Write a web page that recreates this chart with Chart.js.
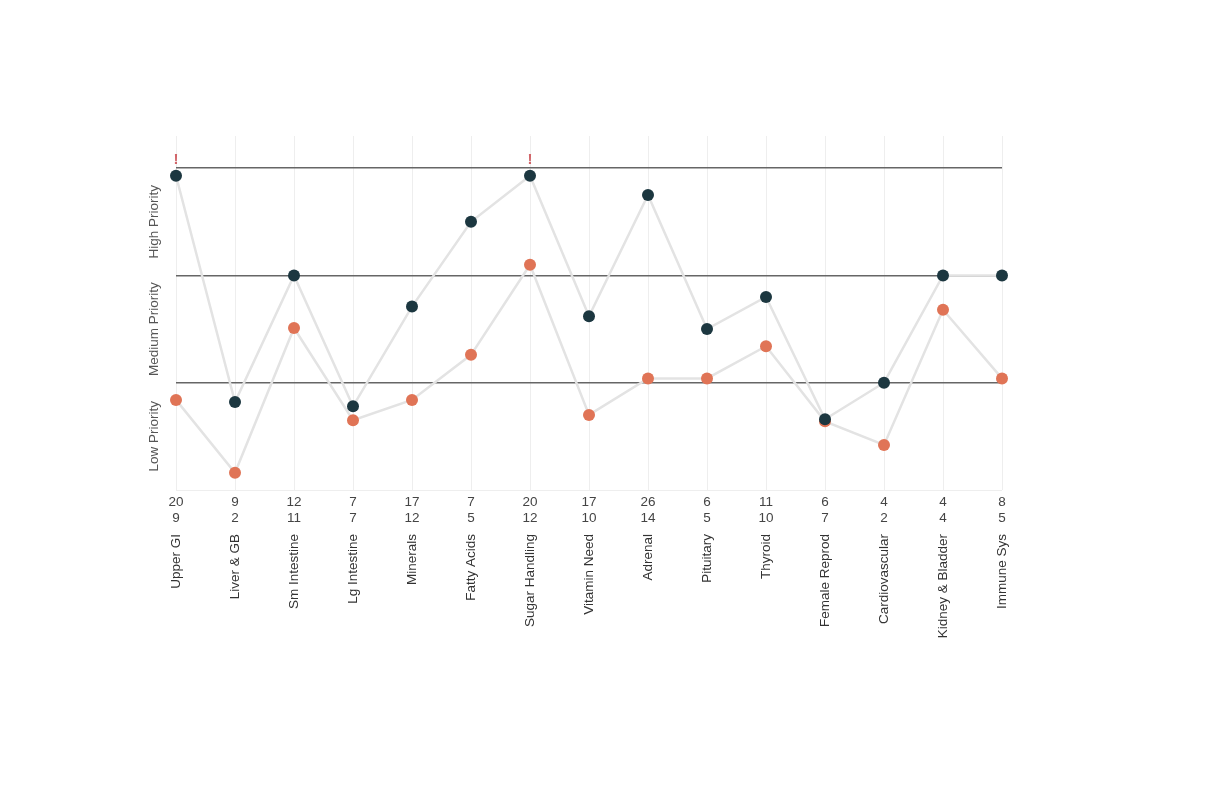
<!DOCTYPE html>
<html>
<head>
<meta charset="utf-8">
<script src="https://cdn.jsdelivr.net/npm/chart.js@4.4.1/dist/chart.umd.min.js"></script>
<style>
  html, body { margin: 0; padding: 0; background: #fff; }
  canvas { display: block; }
</style>
</head>
<body>
<canvas id="c" width="1218" height="790"></canvas>
<script>
const categories = ["Upper GI", "Liver & GB", "Sm Intestine", "Lg Intestine", "Minerals", "Fatty Acids", "Sugar Handling", "Vitamin Need", "Adrenal", "Pituitary", "Thyroid", "Female Reprod", "Cardiovascular", "Kidney & Bladder", "Immune Sys"];
const countsTop = [20, 9, 12, 7, 17, 7, 20, 17, 26, 6, 11, 6, 4, 4, 8];
const countsBottom = [9, 2, 11, 7, 12, 5, 12, 10, 14, 5, 10, 7, 2, 4, 5];
const seriesDark = [2.93, 0.82, 2.0, 0.78, 1.71, 2.5, 2.93, 1.62, 2.75, 1.5, 1.8, 0.66, 1.0, 2.0, 2.0];
const seriesOrange = [0.84, 0.16, 1.51, 0.65, 0.84, 1.26, 2.1, 0.7, 1.04, 1.04, 1.34, 0.64, 0.42, 1.68, 1.04];
const flags = [true, false, false, false, false, false, true, false, false, false, false, false, false, false, false];
const bandLabels = ["Low Priority", "Medium Priority", "High Priority"];
const bandCenters = [0.5, 1.5, 2.5];

const countLabels = countsTop.map((t, i) => [String(t), String(countsBottom[i])]);

const FONT = "'Liberation Sans', Arial, Helvetica, sans-serif";

const extrasPlugin = {
  id: 'extras',
  afterDatasetsDraw(chart) {
    const ctx = chart.ctx;
    const y = chart.scales.y;
    const area = chart.chartArea;
    ctx.save();
    // band labels
    ctx.fillStyle = '#555';
    ctx.font = '13.5px ' + FONT;
    ctx.textAlign = 'center';
    ctx.textBaseline = 'middle';
    bandLabels.forEach((lab, i) => {
      const py = y.getPixelForValue(bandCenters[i]);
      ctx.save();
      ctx.translate(area.left - 22, py);
      ctx.rotate(-Math.PI / 2);
      ctx.fillText(lab, 0, 0);
      ctx.restore();
    });
    // flags
    const meta = chart.getDatasetMeta(0);
    ctx.fillStyle = 'rgba(205, 85, 90, 0.9)';
    ctx.font = 'bold 15px ' + FONT;
    flags.forEach((f, i) => {
      if (!f) return;
      const pt = meta.data[i];
      ctx.fillText('!', pt.x, pt.y - 16);
    });
    ctx.restore();
  }
};

new Chart(document.getElementById('c'), {
  type: 'line',
  data: {
    labels: countLabels,
    datasets: [
      {
        data: seriesDark,
        borderColor: '#e3e3e3',
        borderWidth: 2.5,
        pointRadius: 6,
        pointHoverRadius: 6,
        pointBackgroundColor: '#1c3740',
        pointBorderColor: '#1c3740',
        pointBorderWidth: 0,
        tension: 0,
        xAxisID: 'x'
      },
      {
        data: seriesOrange,
        borderColor: '#e3e3e3',
        borderWidth: 2.5,
        pointRadius: 6,
        pointHoverRadius: 6,
        pointBackgroundColor: '#e07456',
        pointBorderColor: '#e07456',
        pointBorderWidth: 0,
        tension: 0,
        xAxisID: 'x'
      }
    ]
  },
  options: {
    responsive: false,
    animation: false,
    events: [],
    layout: { padding: { left: 176, right: 216, top: 136, bottom: 136 } },
    plugins: { legend: { display: false }, tooltip: { enabled: false } },
    scales: {
      x: {
        type: 'category',
        position: 'bottom',
        weight: 0,
        offset: false,
        border: { display: false },
        grid: { display: true, color: '#eeeeee', lineWidth: 1, drawTicks: false },
        ticks: { color: '#444', font: { size: 13.5, family: FONT }, padding: 4, maxRotation: 0, minRotation: 0, autoSkip: false },
        afterFit(s) { s.height = 36; }
      },
      x2: {
        type: 'category',
        position: 'bottom',
        weight: 1,
        labels: categories,
        offset: false,
        border: { display: false },
        grid: { display: false, drawTicks: false },
        ticks: { color: '#333', font: { size: 13.5, family: FONT }, padding: 8, maxRotation: 90, minRotation: 90, autoSkip: false },
        afterFit(s) { s.height = 128; }
      },
      y: {
        min: 0,
        max: 3.3,
        border: { display: false },
        afterBuildTicks(s) { s.ticks = [{ value: 0 }, { value: 1 }, { value: 2 }, { value: 3 }]; },
        grid: {
          drawTicks: false,
          color: (c) => c.tick && c.tick.value === 0 ? '#eeeeee' : '#666666',
          lineWidth: (c) => c.tick && c.tick.value === 0 ? 1 : 1.5
        },
        ticks: { display: false },
        afterFit(s) { s.width = 0; }
      }
    }
  },
  plugins: [extrasPlugin]
});
</script>
</body>
</html>
